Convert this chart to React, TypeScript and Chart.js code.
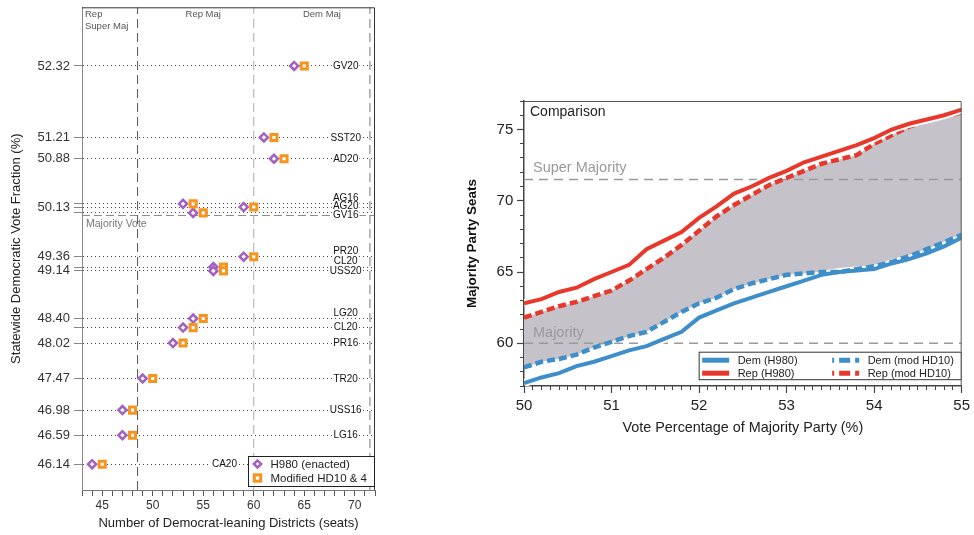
import React, { useEffect, useRef } from 'react';
import { Chart, registerables } from 'chart.js';

Chart.register(...registerables);

const FONT = '"Liberation Sans", Arial, Helvetica, sans-serif';
const PURPLE = '#a35fc2';
const ORANGE = '#f7941d';
const RED = '#e8382b';
const BLUE = '#3d8ec9';
const FILL = '#c5c2c9';

// ---------------- Left panel data ----------------
const raceLabels = ['GV20', 'SST20', 'AD20', 'AG16', 'AG20', 'GV16', 'PR20', 'CL20', 'USS20', 'LG20', 'CL20', 'PR16', 'TR20', 'USS16', 'LG16', 'CA20'];
const voteFraction = [52.32, 51.21, 50.88, 50.18, 50.13, 50.04, 49.36, 49.2, 49.14, 48.4, 48.26, 48.02, 47.47, 46.98, 46.59, 46.14];
const seatsH980 = [64, 61, 62, 53, 59, 54, 59, 56, 56, 54, 53, 52, 49, 47, 47, 44];
const seatsModified = [65, 62, 63, 54, 60, 55, 60, 57, 57, 55, 54, 53, 50, 48, 48, 45];
const labeledFractions = [52.32, 51.21, 50.88, 50.13, 49.36, 49.14, 48.4, 48.02, 47.47, 46.98, 46.59, 46.14];
const seatTickLabels = [45, 50, 55, 60, 65, 70];
const regionBounds = [48.5, 60, 71.5];
const regionNames = ['Rep', 'Super Maj', 'Rep Maj', 'Dem Maj'];
const majorityVote = 50;

// ---------------- Right panel data ----------------
const voteShare = [50.0, 50.2, 50.4, 50.6, 50.8, 51.0, 51.2, 51.4, 51.6, 51.8, 52.0, 52.2, 52.4, 52.6, 52.8, 53.0, 53.2, 53.4, 53.6, 53.8, 54.0, 54.2, 54.4, 54.6, 54.8, 55.0];
const repH980 = [62.8, 63.1, 63.6, 63.9, 64.5, 65.0, 65.5, 66.6, 67.2, 67.8, 68.8, 69.6, 70.5, 71.0, 71.6, 72.1, 72.7, 73.1, 73.5, 73.9, 74.4, 75.0, 75.4, 75.7, 76.0, 76.4];
const repMod = [61.8, 62.2, 62.6, 62.9, 63.3, 63.7, 64.4, 65.2, 66.0, 66.9, 67.9, 68.9, 69.7, 70.4, 71.1, 71.6, 72.1, 72.6, 72.9, 73.2, 74.0, 74.6, 75.2, 75.6, 75.9, 76.2];
const demH980 = [57.2, 57.6, 57.9, 58.4, 58.7, 59.1, 59.5, 59.8, 60.3, 60.8, 61.8, 62.3, 62.8, 63.2, 63.6, 64.0, 64.4, 64.8, 65.0, 65.1, 65.2, 65.6, 65.9, 66.3, 66.8, 67.4];
const demMod = [58.3, 58.7, 58.9, 59.2, 59.7, 60.1, 60.5, 60.8, 61.5, 62.2, 62.8, 63.2, 63.8, 64.2, 64.5, 64.8, 64.9, 65.0, 65.0, 65.2, 65.4, 65.7, 66.1, 66.6, 67.1, 67.6];
const superMajoritySeats = 71.5;
const majoritySeats = 60;
const seatMajorTicks = [60, 65, 70, 75];
const voteMajorTicks = [50, 51, 52, 53, 54, 55];

// label placement (layout only)
const raceLabelSeat = [69.1, 69.1, 69.1, 69.1, 69.1, 69.1, 69.1, 69.1, 69.1, 69.1, 69.1, 69.1, 69.1, 69.1, 69.1, 57.1];
const raceLabelDy = [0, 0, 0, -6, -1, 2, -6, -6, 0, -6, -1, 0, 0, 0, 0, 0];

function font(size: number, weight: string = 'normal') {
  return { family: FONT, size, weight } as any;
}

function drawDiamond(ctx: CanvasRenderingContext2D, x: number, y: number, r: number) {
  ctx.beginPath();
  ctx.moveTo(x - r, y);
  ctx.lineTo(x, y - r);
  ctx.lineTo(x + r, y);
  ctx.lineTo(x, y + r);
  ctx.closePath();
  ctx.fillStyle = '#fff';
  ctx.fill();
  ctx.strokeStyle = PURPLE;
  ctx.lineWidth = 2.5;
  ctx.stroke();
}

function drawSquare(ctx: CanvasRenderingContext2D, x: number, y: number, s: number) {
  ctx.fillStyle = '#fff';
  ctx.fillRect(x - s, y - s, 2 * s, 2 * s);
  ctx.strokeStyle = ORANGE;
  ctx.lineWidth = 3;
  ctx.strokeRect(x - s, y - s, 2 * s, 2 * s);
}

function LeftPanel() {
  const ref = useRef<HTMLCanvasElement | null>(null);
  useEffect(() => {
    const canvas = ref.current!;
    const yMin = 45.74;
    const yMax = 53.23;
    const xMin = 43;
    const xMax = 72;
    const vline = (x: number) => [{ x, y: yMin }, { x, y: yMax }];
    const seatMinor: number[] = [];
    for (let s = xMin; s <= xMax; s++) seatMinor.push(s);

    const textPlugin = {
      id: 'leftText',
      afterDatasetsDraw(chart: any) {
        const { ctx, chartArea, scales } = chart;
        const x = scales.x;
        const y = scales.y;
        ctx.save();
        // race labels
        ctx.font = `10px ${FONT}`;
        ctx.textAlign = 'center';
        ctx.textBaseline = 'middle';
        raceLabels.forEach((lab, i) => {
          const px = x.getPixelForValue(raceLabelSeat[i]);
          const py = y.getPixelForValue(voteFraction[i]) + raceLabelDy[i];
          const w = ctx.measureText(lab).width;
          ctx.fillStyle = '#fff';
          ctx.fillRect(px - w / 2 - 1, py - 5, w + 2, 10);
          ctx.fillStyle = '#111';
          ctx.fillText(lab, px, py + 0.5);
        });
        // region names
        ctx.fillStyle = '#555';
        ctx.font = `9.5px ${FONT}`;
        ctx.textAlign = 'left';
        ctx.fillText(regionNames[0], chartArea.left + 3, chartArea.top + 7);
        ctx.fillText(regionNames[1], chartArea.left + 3, chartArea.top + 19.5);
        ctx.textAlign = 'center';
        ctx.fillText(regionNames[2], x.getPixelForValue(55), chartArea.top + 7);
        ctx.fillText(regionNames[3], x.getPixelForValue(66.75), chartArea.top + 7);
        // majority vote
        ctx.fillStyle = '#777';
        ctx.font = `10.5px ${FONT}`;
        ctx.textAlign = 'left';
        ctx.fillText('Majority Vote', chartArea.left + 4, y.getPixelForValue(majorityVote) + 8.5);
        // box
        ctx.strokeStyle = '#333';
        ctx.lineWidth = 1;
        ctx.beginPath();
        ctx.moveTo(chartArea.left, chartArea.top + 0.5);
        ctx.lineTo(chartArea.right - 0.5, chartArea.top + 0.5);
        ctx.lineTo(chartArea.right - 0.5, chartArea.bottom);
        ctx.stroke();
        // legend
        const lw = 127;
        const lh = 31;
        const lx = chartArea.right - lw;
        const ly = chartArea.bottom - 34;
        ctx.fillStyle = '#fff';
        ctx.fillRect(lx, ly, lw, lh);
        ctx.strokeStyle = '#222';
        ctx.strokeRect(lx + 0.5, ly + 0.5, lw - 1, lh - 1);
        drawDiamond(ctx, lx + 9.5, ly + 8, 3.6);
        drawSquare(ctx, lx + 9.5, ly + 22, 3.2);
        ctx.fillStyle = '#222';
        ctx.font = `11.5px ${FONT}`;
        ctx.textAlign = 'left';
        ctx.textBaseline = 'middle';
        ctx.fillText('H980 (enacted)', lx + 22.5, ly + 8.5);
        ctx.fillText('Modified HD10 & 4', lx + 22.5, ly + 22.5);
        ctx.restore();
      },
    };

    const chart = new Chart(canvas, {
      type: 'scatter',
      data: {
        datasets: [
          {
            label: 'H980 (enacted)',
            data: voteFraction.map((v, i) => ({ x: seatsH980[i], y: v })),
            pointStyle: 'rectRot',
            pointRadius: 4,
            pointHoverRadius: 4,
            pointBorderColor: PURPLE,
            pointBackgroundColor: '#fff',
            pointBorderWidth: 2.5,
            order: 1,
          },
          {
            label: 'Modified HD10 & 4',
            data: voteFraction.map((v, i) => ({ x: seatsModified[i], y: v })),
            pointStyle: 'rect',
            pointRadius: 4.3,
            pointHoverRadius: 4.3,
            pointBorderColor: ORANGE,
            pointBackgroundColor: '#fff',
            pointBorderWidth: 3,
            order: 0,
          },
          { label: 'b1', data: vline(regionBounds[0]), showLine: true, borderColor: '#555', borderWidth: 1, borderDash: [9, 5], pointRadius: 0, order: 5 },
          { label: 'b2', data: vline(regionBounds[1]), showLine: true, borderColor: '#aaa', borderWidth: 1, borderDash: [9, 5], pointRadius: 0, order: 5 },
          { label: 'b3', data: vline(regionBounds[2]), showLine: true, borderColor: '#777', borderWidth: 1, borderDash: [9, 5], pointRadius: 0, order: 5 },
          { label: 'mv', data: [{ x: xMin, y: majorityVote }, { x: xMax, y: majorityVote }], showLine: true, borderColor: '#888', borderWidth: 1, borderDash: [8, 4], pointRadius: 0, order: 5 },
        ] as any,
      },
      options: {
        animation: false,
        responsive: false,
        maintainAspectRatio: false,
        events: [],
        layout: { padding: { left: 0, right: 25, top: 3.5, bottom: 0 } },
        plugins: { legend: { display: false }, tooltip: { enabled: false } },
        scales: {
          x: {
            type: 'linear',
            position: 'bottom',
            min: xMin,
            max: xMax,
            afterBuildTicks: (s: any) => {
              s.ticks = seatMinor.map((v) => ({ value: v }));
            },
            afterFit: (s: any) => {
              s.height = 45;
              s.paddingLeft = 0;
              s.paddingRight = 0;
            },
            ticks: {
              autoSkip: false,
              maxRotation: 0,
              padding: 2.5,
              color: '#333',
              font: font(12),
              callback: (v: any) => (seatTickLabels.includes(Number(v)) ? String(v) : ''),
            },
            grid: { drawOnChartArea: false, tickLength: 6, tickColor: '#555' },
            border: { color: '#777', width: 1 },
            title: {
              display: true,
              text: 'Number of Democrat-leaning Districts (seats)',
              color: '#222',
              font: font(13),
              padding: { top: 0, bottom: 3.8 },
            },
          },
          y: {
            type: 'linear',
            position: 'left',
            min: yMin,
            max: yMax,
            afterBuildTicks: (s: any) => {
              s.ticks = [...voteFraction].sort((a, b) => a - b).map((v) => ({ value: v }));
            },
            afterFit: (s: any) => {
              s.width = 82;
              s.paddingTop = 0;
              s.paddingBottom = 0;
            },
            ticks: {
              autoSkip: false,
              padding: 4,
              color: '#333',
              font: font(13),
              callback: (v: any) => (labeledFractions.includes(Number(v)) ? Number(v).toFixed(2) : ''),
            },
            grid: { drawOnChartArea: true, color: '#444', lineWidth: 1, tickLength: 8, tickColor: '#888', tickBorderDash: [] },
            border: { color: '#888', width: 1, dash: [1, 3] },
            title: {
              display: true,
              text: 'Statewide Democratic Vote Fraction (%)',
              color: '#222',
              font: font(13),
              padding: { top: 8.5, bottom: 0 },
            },
          },
        },
      } as any,
      plugins: [textPlugin],
    });
    return () => chart.destroy();
  }, []);
  return <canvas ref={ref} width={400} height={535} style={{ position: 'absolute', left: 0, top: 0, width: 400, height: 535 }} />;
}

function RightPanel() {
  const ref = useRef<HTMLCanvasElement | null>(null);
  useEffect(() => {
    const canvas = ref.current!;
    const pts = (arr: number[]) => voteShare.map((x, i) => ({ x, y: arr[i] }));
    const voteMinor: number[] = [];
    for (let i = 500; i <= 550; i++) voteMinor.push(i / 10);
    const seatMinor: number[] = [];
    for (let s = 57; s <= 77; s++) seatMinor.push(s);

    const annPlugin = {
      id: 'rightText',
      afterDatasetsDraw(chart: any) {
        const { ctx, chartArea, scales } = chart;
        const y = scales.y;
        ctx.save();
        // box
        ctx.strokeStyle = '#555';
        ctx.lineWidth = 1;
        ctx.beginPath();
        ctx.moveTo(chartArea.left, chartArea.top + 0.5);
        ctx.lineTo(chartArea.right - 0.5, chartArea.top + 0.5);
        ctx.lineTo(chartArea.right - 0.5, chartArea.bottom);
        ctx.stroke();
        // texts
        ctx.textAlign = 'left';
        ctx.textBaseline = 'middle';
        ctx.fillStyle = '#222';
        ctx.font = `14px ${FONT}`;
        ctx.fillText('Comparison', chartArea.left + 6, chartArea.top + 11);
        ctx.fillStyle = '#999';
        ctx.font = `14.5px ${FONT}`;
        ctx.fillText('Super Majority', chartArea.left + 9, y.getPixelForValue(superMajoritySeats) - 11);
        ctx.fillText('Majority', chartArea.left + 9, y.getPixelForValue(majoritySeats) - 10);
        // legend
        const lw = 263;
        const lh = 28.5;
        const lx = chartArea.right - lw;
        const ly = chartArea.bottom - 34.3;
        ctx.fillStyle = '#fff';
        ctx.fillRect(lx, ly, lw, lh);
        ctx.strokeStyle = '#333';
        ctx.strokeRect(lx + 0.5, ly + 0.5, lw - 1, lh - 1);
        const items = [
          { c: BLUE, dash: false, t: 'Dem (H980)', col: 0, row: 0 },
          { c: RED, dash: false, t: 'Rep (H980)', col: 0, row: 1 },
          { c: BLUE, dash: true, t: 'Dem (mod HD10)', col: 1, row: 0 },
          { c: RED, dash: true, t: 'Rep (mod HD10)', col: 1, row: 1 },
        ];
        ctx.font = `11px ${FONT}`;
        items.forEach((it) => {
          const sx = lx + 3.5 + it.col * 130;
          const sy = ly + 8.5 + it.row * 13;
          ctx.strokeStyle = it.c;
          ctx.lineWidth = 5;
          if (it.dash) {
            ctx.setLineDash([11, 5]);
            ctx.lineDashOffset = 9;
          } else {
            ctx.setLineDash([]);
            ctx.lineDashOffset = 0;
          }
          ctx.beginPath();
          ctx.moveTo(sx, sy);
          ctx.lineTo(sx + 27, sy);
          ctx.stroke();
          ctx.setLineDash([]);
          ctx.fillStyle = '#222';
          ctx.fillText(it.t, sx + 35.5, sy + 0.5);
        });
        ctx.restore();
      },
    };

    const line = (label: string, data: any, color: string, width: number, order: number, extra: any = {}) => ({
      label,
      data,
      borderColor: color,
      borderWidth: width,
      pointRadius: 0,
      pointHoverRadius: 0,
      tension: 0,
      fill: false,
      order,
      ...extra,
    });

    const chart = new Chart(canvas, {
      type: 'line',
      data: {
        datasets: [
          line('Rep (H980)', pts(repH980), RED, 4, 1),
          line('halo rep', pts(repH980), '#fff', 8, 2),
          line('Rep (mod HD10)', pts(repMod), RED, 4.5, 3, { borderDash: [8, 4], fill: 4, backgroundColor: FILL }),
          line('Dem (H980)', pts(demH980), BLUE, 4, 5),
          line('Dem (mod HD10)', pts(demMod), BLUE, 4.5, 4, { borderDash: [8, 4] }),
          line('halo dem', pts(demH980), '#fff', 8, 6),
          line('super', [{ x: 50, y: superMajoritySeats }, { x: 55, y: superMajoritySeats }], '#9a9a9a', 1.5, 7, { borderDash: [9, 6] }),
          line('majority', [{ x: 50, y: majoritySeats }, { x: 55, y: majoritySeats }], '#9a9a9a', 1.5, 7, { borderDash: [9, 6] }),
        ] as any,
      },
      options: {
        animation: false,
        responsive: false,
        maintainAspectRatio: false,
        events: [],
        layout: { padding: { left: 0, right: 8, top: 16, bottom: 0 } },
        plugins: {
          legend: { display: false },
          tooltip: { enabled: false },
          filler: { drawTime: 'beforeDatasetsDraw', propagate: false },
        },
        scales: {
          x: {
            type: 'linear',
            position: 'bottom',
            min: 50,
            max: 55,
            weight: 1,
            afterBuildTicks: (s: any) => {
              s.ticks = voteMajorTicks.map((v) => ({ value: v }));
            },
            afterFit: (s: any) => {
              s.height = 64;
            },
            ticks: { autoSkip: false, maxRotation: 0, padding: 4, color: '#222', font: font(15), callback: (v: any) => String(v) },
            grid: { drawOnChartArea: false, tickLength: 7, tickColor: '#444', tickWidth: 1.2 },
            border: { color: '#444', width: 1.5 },
            title: {
              display: true,
              text: 'Vote Percentage of Majority Party (%)',
              color: '#222',
              font: font(14.4),
              padding: { top: 0, bottom: 13.5 },
            },
          },
          x2: {
            type: 'linear',
            position: 'bottom',
            min: 50,
            max: 55,
            weight: 0,
            afterBuildTicks: (s: any) => {
              s.ticks = voteMinor.map((v) => ({ value: v }));
            },
            afterFit: (s: any) => {
              s.height = 0;
            },
            ticks: { display: false, autoSkip: false },
            grid: { drawOnChartArea: false, tickLength: 4, tickColor: '#444', tickWidth: 1 },
            border: { display: false },
          },
          y: {
            type: 'linear',
            position: 'left',
            min: 57,
            max: 77,
            weight: 1,
            afterBuildTicks: (s: any) => {
              s.ticks = seatMajorTicks.map((v) => ({ value: v }));
            },
            afterFit: (s: any) => {
              s.width = 69;
            },
            ticks: { autoSkip: false, padding: 3.7, color: '#222', font: font(15), callback: (v: any) => String(v) },
            grid: { drawOnChartArea: false, tickLength: 7, tickColor: '#444', tickWidth: 1.2 },
            border: { color: '#444', width: 1.5 },
            title: {
              display: true,
              text: 'Majority Party Seats',
              color: '#111',
              font: font(13.5, 'bold'),
              padding: { top: 8.9, bottom: 0 },
            },
          },
          y2: {
            type: 'linear',
            position: 'left',
            min: 57,
            max: 77,
            weight: 0,
            afterBuildTicks: (s: any) => {
              s.ticks = seatMinor.map((v) => ({ value: v }));
            },
            afterFit: (s: any) => {
              s.width = 0;
            },
            ticks: { display: false, autoSkip: false },
            grid: { drawOnChartArea: false, tickLength: 4, tickColor: '#444', tickWidth: 1 },
            border: { display: false },
          },
        },
      } as any,
      plugins: [annPlugin],
    });
    return () => chart.destroy();
  }, []);
  return <canvas ref={ref} width={519} height={365} style={{ position: 'absolute', left: 455, top: 85, width: 519, height: 365 }} />;
}

export default function App() {
  return (
    <div style={{ position: 'fixed', left: 0, top: 0, width: 974, height: 535, background: '#fff', overflow: 'hidden' }}>
      <LeftPanel />
      <RightPanel />
    </div>
  );
}
